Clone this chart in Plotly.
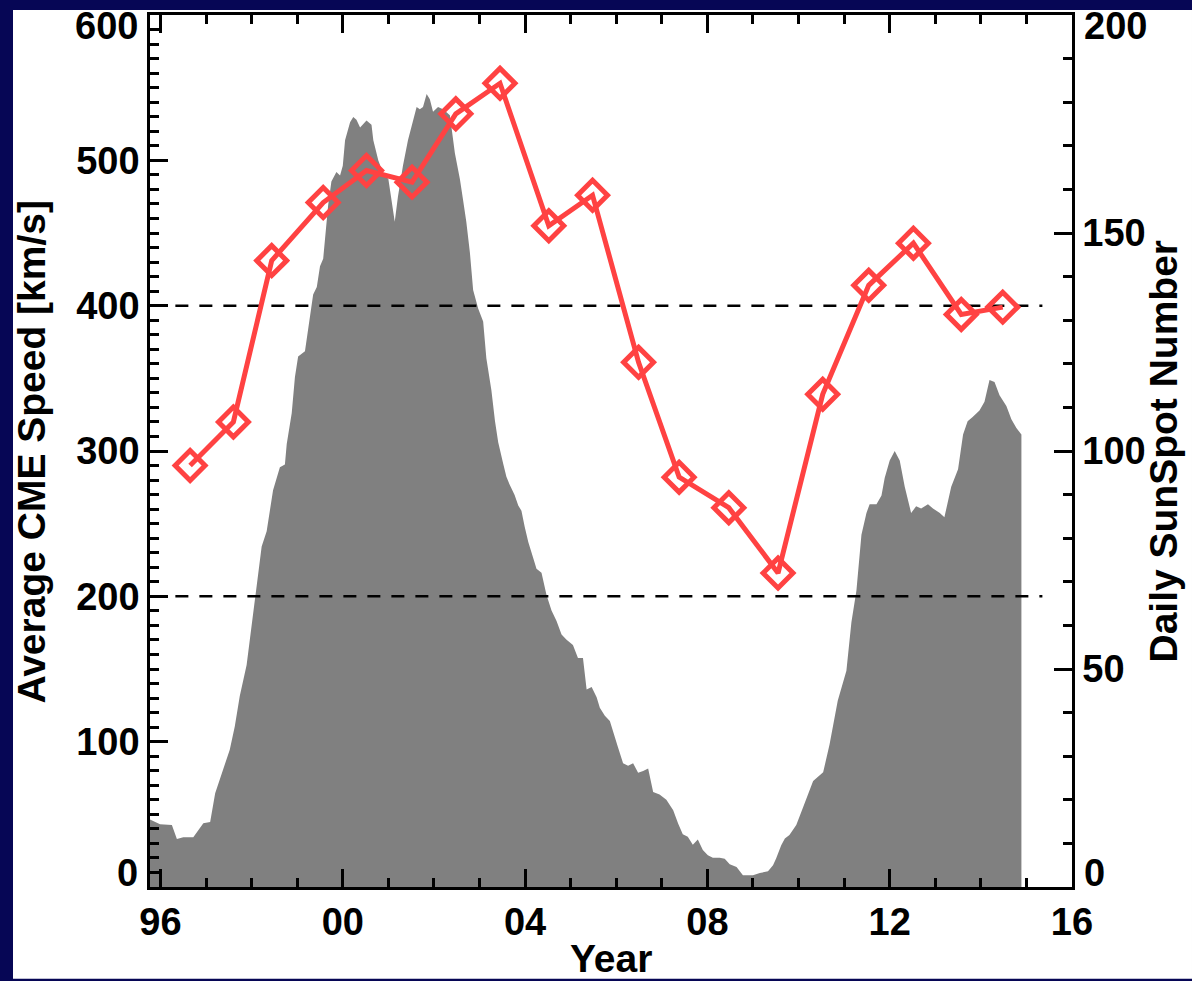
import plotly.graph_objects as go

# Yearly average CME speed (km/s)
cme_year = [1996.65, 1997.60, 1998.44, 1999.57, 2000.52, 2001.52, 2002.48, 2003.45,
            2004.52, 2005.48, 2006.49, 2007.38, 2008.47, 2009.55, 2010.53, 2011.54,
            2012.52, 2013.57, 2014.48]
cme_speed = [290, 320, 431, 471, 493, 485, 532, 553,
             455, 476, 361, 282, 261, 216, 339, 414,
             443, 394, 399]

# Smoothed daily sunspot number
ssn_year = [1995.77, 1995.99, 1996.25, 1996.36, 1996.50, 1996.72, 1996.94, 1997.09, 1997.20,
            1997.34, 1997.52, 1997.63, 1997.74, 1997.89, 1998.00, 1998.11, 1998.22, 1998.33,
            1998.47, 1998.62, 1998.73, 1998.77, 1998.88, 1998.95, 1999.02, 1999.17, 1999.28,
            1999.35, 1999.43, 1999.50, 1999.57, 1999.64, 1999.68, 1999.75, 1999.86, 1999.94,
            2000.00, 2000.05, 2000.16, 2000.23, 2000.30, 2000.38, 2000.45, 2000.52, 2000.63,
            2000.67, 2000.78, 2000.89, 2001.00, 2001.07, 2001.14, 2001.21, 2001.32, 2001.43,
            2001.54, 2001.62, 2001.69, 2001.76, 2001.84, 2001.91, 2001.98, 2002.09, 2002.20,
            2002.35, 2002.46, 2002.57, 2002.64, 2002.71, 2002.79, 2002.86, 2002.97, 2003.08,
            2003.15, 2003.26, 2003.34, 2003.41, 2003.52, 2003.59, 2003.66, 2003.77, 2003.85,
            2003.92, 2003.99, 2004.07, 2004.18, 2004.25, 2004.36, 2004.47, 2004.58, 2004.69,
            2004.80, 2004.91, 2005.05, 2005.16, 2005.27, 2005.35, 2005.46, 2005.57, 2005.64,
            2005.75, 2005.86, 2005.93, 2006.04, 2006.15, 2006.26, 2006.37, 2006.48, 2006.59,
            2006.70, 2006.81, 2006.95, 2007.10, 2007.25, 2007.36, 2007.46, 2007.57, 2007.68,
            2007.79, 2007.90, 2008.01, 2008.12, 2008.27, 2008.38, 2008.49, 2008.64, 2008.78,
            2009.00, 2009.15, 2009.33, 2009.44, 2009.51, 2009.62, 2009.70, 2009.80, 2009.95,
            2010.10, 2010.32, 2010.54, 2010.62, 2010.68, 2010.75, 2010.83, 2010.86, 2011.05,
            2011.16, 2011.27, 2011.38, 2011.49, 2011.56, 2011.71, 2011.82, 2011.89, 2012.00,
            2012.11, 2012.22, 2012.33, 2012.47, 2012.58, 2012.69, 2012.84, 2012.95, 2013.10,
            2013.20, 2013.35, 2013.50, 2013.61, 2013.71, 2013.82, 2013.97, 2014.08, 2014.19,
            2014.30, 2014.41, 2014.56, 2014.67, 2014.78, 2014.89]
ssn_value = [15.5, 14.4, 14.2, 11.0, 11.4, 11.4, 14.6, 14.9, 21.5,
             26.1, 31.5, 36.8, 43.8, 50.9, 60.4, 69.8, 78.1, 81.6,
             91.0, 96.3, 96.9, 101.6, 108.7, 117.0, 121.7, 122.9, 131.1,
             135.9, 137.6, 142.4, 144.1, 151.2, 156.5, 161.8, 164.0, 163.2,
             165.4, 171.3, 175.4, 176.6, 176.0, 174.2, 175.0, 175.8, 174.8,
             171.3, 166.6, 163.6, 162.4, 157.1, 152.6, 158.3, 165.4, 171.3,
             176.0, 178.9, 178.4, 178.9, 181.9, 180.7, 177.8, 178.9, 178.4,
             177.0, 168.3, 162.3, 157.5, 152.6, 145.4, 136.9, 132.7, 129.7,
             121.3, 114.0, 106.8, 102.0, 97.1, 94.1, 92.3, 89.9, 87.5,
             86.3, 82.7, 79.1, 75.4, 73.0, 72.1, 67.0, 63.4, 61.0,
             57.9, 56.7, 55.5, 52.5, 52.5, 45.3, 45.9, 43.5, 41.1,
             39.3, 38.1, 35.6, 32.0, 28.4, 27.8, 28.4, 26.2, 26.6,
             27.2, 21.8, 21.2, 20.0, 17.6, 14.5, 12.1, 11.5, 9.7,
             10.9, 8.5, 7.3, 6.7, 6.7, 6.5, 5.2, 4.6, 2.7,
             2.7, 3.2, 3.6, 5.0, 6.6, 9.6, 11.1, 11.9, 14.2,
             18.3, 24.3, 26.3, 29.7, 32.7, 36.6, 41.7, 42.7, 49.6,
             60.7, 68.0, 80.8, 85.8, 87.8, 87.8, 89.8, 93.8, 97.8,
             100.0, 97.8, 91.8, 85.8, 87.3, 86.8, 87.8, 86.8, 85.8,
             84.8, 91.8, 95.8, 103.8, 106.8, 107.8, 109.3, 111.3, 116.3,
             115.8, 112.8, 110.3, 107.3, 105.3, 103.8]

# Reference speed levels drawn as dashed lines
ref_levels = [200, 400]
ref_span = [1995.80, 2015.35]

# Axis ticks
year_ticks = [1996, 2000, 2004, 2008, 2012, 2016]
year_labels = ["96", "00", "04", "08", "12", "16"]
speed_ticks = [0, 100, 200, 300, 400, 500, 600]
ssn_ticks = [0, 50, 100, 150, 200]

NAVY = "#060655"
RED = "#FF4242"
GRAY = "#808080"
FAMILY = "Liberation Sans, Arial, sans-serif"
FONT = dict(family=FAMILY, size=38, color="black", weight="bold")
TITLE_FONT = dict(family=FAMILY, size=39, color="black", weight="bold")


def inner_labels(vals):
    # end-of-range labels are placed separately, nudged inside the frame
    return [str(v) if 0 < i < len(vals) - 1 else "" for i, v in enumerate(vals)]


fig = go.Figure()

# Sunspot number (underlying axis, right side)
fig.add_trace(go.Scatter(
    x=ssn_year, y=ssn_value, yaxis="y", mode="lines",
    line=dict(width=0, color=GRAY), fill="tozeroy", fillcolor=GRAY,
    hoverinfo="skip", showlegend=False))

# Dashed reference levels (speed axis)
for lvl in ref_levels:
    fig.add_trace(go.Scatter(
        x=ref_span, y=[lvl, lvl], yaxis="y2", mode="lines",
        line=dict(color="black", width=2.5, dash="13px,11px"),
        hoverinfo="skip", showlegend=False))

# Average CME speed
fig.add_trace(go.Scatter(
    x=cme_year, y=cme_speed, yaxis="y2", mode="lines+markers",
    line=dict(color=RED, width=5),
    marker=dict(symbol="diamond-open", size=23, color=RED, line=dict(color=RED, width=5)),
    showlegend=False))

axis_common = dict(
    showgrid=False, zeroline=False, showline=True, linecolor="black", linewidth=2.5,
    ticks="inside", tickcolor="black", tickwidth=2.5, ticklen=18, tickfont=FONT,
)

# End labels of the two vertical axes
end_labels = []
for val, yshift in [(speed_ticks[0], 14), (speed_ticks[-1], -11)]:
    end_labels.append(dict(text=str(val), xref="paper", yref="y2", x=0, y=val,
                           xanchor="right", yanchor="middle", xshift=-10, yshift=yshift,
                           showarrow=False, font=FONT))
for val, yshift in [(ssn_ticks[0], 14), (ssn_ticks[-1], -11)]:
    end_labels.append(dict(text=str(val), xref="paper", yref="y", x=1, y=val,
                           xanchor="left", yanchor="middle", xshift=10, yshift=yshift,
                           showarrow=False, font=FONT))

fig.update_layout(
    width=1192, height=981,
    margin=dict(l=150, r=120, t=12, b=94),
    paper_bgcolor=NAVY, plot_bgcolor="white",
    xaxis=dict(
        range=[1995.77, 2016], tickmode="array", tickvals=year_ticks, ticktext=year_labels,
        mirror="ticks",
        minor=dict(tickmode="linear", tick0=1996, dtick=1, ticks="inside", ticklen=9,
                   tickwidth=2.5, tickcolor="black"),
        **axis_common),
    yaxis=dict(
        range=[0, 200], side="right", tickmode="array", tickvals=ssn_ticks,
        ticktext=inner_labels(ssn_ticks),
        minor=dict(tickmode="linear", tick0=0, dtick=10, ticks="inside", ticklen=9,
                   tickwidth=2.5, tickcolor="black"),
        **axis_common),
    yaxis2=dict(
        range=[0, 600], side="left", overlaying="y", anchor="x",
        tickmode="array", tickvals=speed_ticks, ticktext=inner_labels(speed_ticks),
        minor=dict(tickmode="linear", tick0=0, dtick=10, ticks="inside", ticklen=9,
                   tickwidth=2.5, tickcolor="black"),
        **axis_common),
    shapes=[dict(type="rect", xref="paper", yref="paper",
                 x0=-0.14859, x1=1.13015, y0=-0.10514, y1=1.00571,
                 fillcolor="white", line=dict(width=0), layer="below")],
    annotations=end_labels + [
        dict(text="Average CME Speed [km/s]", xref="paper", yref="paper",
             x=-0.129, y=0.4994, textangle=-90, showarrow=False,
             xanchor="center", yanchor="middle", font=TITLE_FONT),
        dict(text="Daily SunSpot Number", xref="paper", yref="paper",
             x=1.0998, y=0.4994, textangle=-90, showarrow=False,
             xanchor="center", yanchor="middle", font=TITLE_FONT),
        dict(text="Year", xref="paper", yref="paper",
             x=0.5, y=-0.0823, showarrow=False,
             xanchor="center", yanchor="middle", font=TITLE_FONT),
    ],
)

fig.write_html("out.html")
